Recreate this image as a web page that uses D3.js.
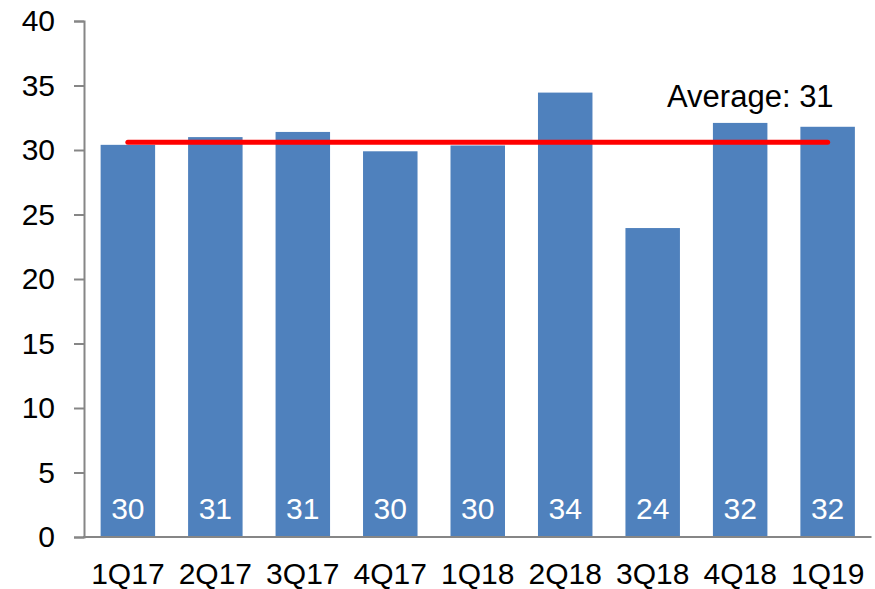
<!DOCTYPE html>
<html>
<head>
<meta charset="utf-8">
<script src="https://cdn.jsdelivr.net/npm/d3@7"></script>
<style>
  body { margin: 0; background: #fff; }
  svg { display: block; }
  text { font-family: "Liberation Sans", Arial, sans-serif; }
</style>
</head>
<body>
<div id="chart"></div>
<script>
// Data
var quarters = ["1Q17", "2Q17", "3Q17", "4Q17", "1Q18", "2Q18", "3Q18", "4Q18", "1Q19"];
var values = [30.4, 31.0, 31.4, 29.9, 30.35, 34.45, 23.95, 32.1, 31.8];
var barLabels = ["30", "31", "31", "30", "30", "34", "24", "32", "32"];
var averageValue = 30.6;
var averageLabel = "Average: 31";
var yTicks = [0, 5, 10, 15, 20, 25, 30, 35, 40];

var W = 875, H = 589;

var svg = d3.select("#chart")
    .append("svg")
    .attr("width", W)
    .attr("height", H);

// Scales
var x = d3.scaleBand().domain(quarters).range([84, 871.5]).paddingInner(0.377).paddingOuter(0.19);
var y = d3.scaleLinear().domain([0, 40]).range([537, 21]);

// Bars
svg.append("g")
    .selectAll("rect")
    .data(values)
    .enter()
    .append("rect")
    .attr("x", function(d, i) { return x(quarters[i]); })
    .attr("y", function(d) { return y(d); })
    .attr("width", x.bandwidth())
    .attr("height", function(d) { return y(0) - y(d); })
    .style("fill", "#4F81BD");

// Value labels inside the bars
svg.append("g")
    .selectAll("text")
    .data(barLabels)
    .enter()
    .append("text")
    .attr("x", function(d, i) { return x(quarters[i]) + x.bandwidth() / 2; })
    .attr("y", y(0) - 18)
    .attr("text-anchor", "middle")
    .style("font-size", "30px")
    .style("fill", "white")
    .text(function(d) { return d; });

// Y axis
var yAxis = svg.append("g")
    .attr("transform", "translate(84,0)")
    .call(d3.axisLeft(y).tickValues(yTicks).tickSize(10).tickPadding(19));
yAxis.select(".domain").attr("stroke", "#868686").attr("stroke-width", 2);
yAxis.selectAll(".tick line").attr("stroke", "#868686").attr("stroke-width", 2);
yAxis.selectAll(".tick text")
    .style("font-size", "30px")
    .style("fill", "#000")
    .style("font-family", "'Liberation Sans', Arial, sans-serif");

// X axis
var xAxis = svg.append("g")
    .attr("transform", "translate(0," + y(0) + ")")
    .call(d3.axisBottom(x).tickSize(0).tickPadding(26));
xAxis.select(".domain").attr("stroke", "#868686").attr("stroke-width", 2)
    .attr("d", "M83,0H871.5");
xAxis.selectAll(".tick text")
    .style("font-size", "30px")
    .style("fill", "#000")
    .style("font-family", "'Liberation Sans', Arial, sans-serif");

// Average line
var first = x(quarters[0]) + x.bandwidth() / 2;
var last = x(quarters[quarters.length - 1]) + x.bandwidth() / 2;
svg.append("line")
    .attr("x1", first)
    .attr("x2", last)
    .attr("y1", y(averageValue))
    .attr("y2", y(averageValue))
    .attr("stroke", "#FF0000")
    .attr("stroke-width", 5)
    .attr("stroke-linecap", "round");

svg.append("text")
    .attr("x", last + 6)
    .attr("y", 107)
    .attr("text-anchor", "end")
    .style("font-size", "31px")
    .style("fill", "#000")
    .text(averageLabel);
</script>
</body>
</html>
